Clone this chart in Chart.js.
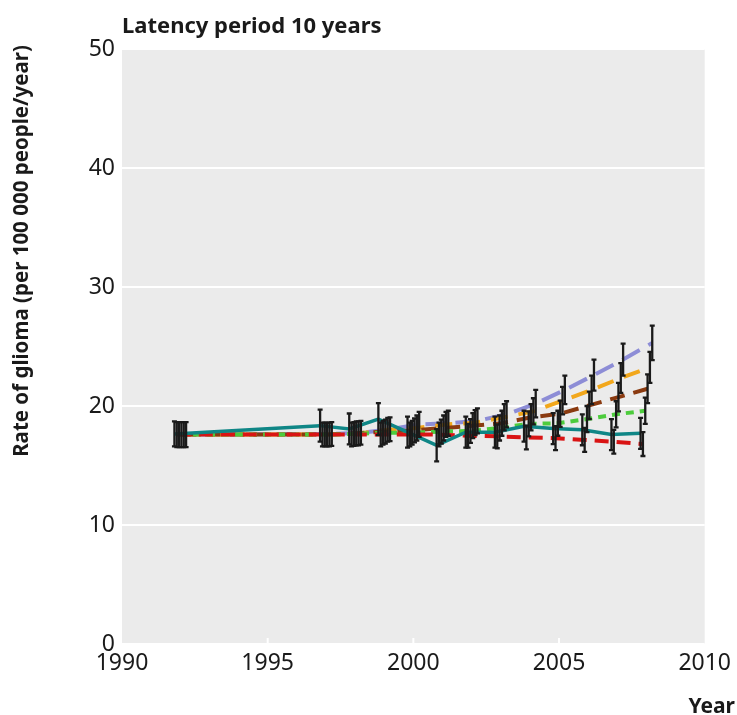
<!DOCTYPE html>
<html>
<head>
<meta charset="utf-8">
<title>Latency period 10 years</title>
<script src="https://cdn.jsdelivr.net/npm/chart.js@4.4.1/dist/chart.umd.min.js"></script>
<style>
  html, body { margin: 0; padding: 0; background: #fff; }
</style>
</head>
<body>
<canvas id="gliomaChart" width="737" height="715"></canvas>
<script>
// data (rate per 100 000 people/year)
const years = [1992, 1997, 1998, 1999, 2000, 2001, 2002, 2003, 2004, 2005, 2006, 2007, 2008];

const observed = [17.65, 18.35, 18.07, 18.9, 17.8, 16.7, 17.8, 17.8, 18.3, 18.1, 18.0, 17.6, 17.7];
const projRed = [17.6, 17.6, 17.6, 17.6, 17.6, 17.6, 17.5, 17.45, 17.35, 17.3, 17.15, 17.0, 16.8];
const projGreen = [17.6, 17.6, 17.65, 17.75, 17.75, 17.85, 17.9, 18.15, 18.5, 18.55, 18.9, 19.3, 19.6];
const projBrown = [17.6, 17.6, 17.7, 17.85, 17.95, 18.15, 18.35, 18.55, 19.05, 19.35, 20.05, 20.75, 21.45];
const projOrange = [17.6, 17.6, 17.7, 18.0, 18.15, 18.45, 18.6, 19.05, 19.55, 20.45, 21.35, 22.35, 23.25];
const projPurple = [17.6, 17.65, 17.75, 18.05, 18.45, 18.55, 18.75, 19.3, 20.2, 21.35, 22.6, 23.9, 25.3];

// half widths of the confidence intervals
const errObserved = [1.05, 1.35, 1.3, 1.35, 1.3, 1.35, 1.3, 1.3, 1.3, 1.3, 1.3, 1.3, 1.3];
const errRed = [1.05, 1.0, 1.0, 1.0, 1.0, 1.0, 1.0, 1.0, 1.0, 1.0, 1.0, 1.0, 1.0];
const errGreen = [1.05, 1.0, 1.0, 1.0, 1.0, 1.0, 1.0, 1.05, 1.05, 1.05, 1.1, 1.1, 1.1];
const errBrown = [1.05, 1.0, 1.0, 1.0, 1.0, 1.05, 1.05, 1.05, 1.1, 1.1, 1.15, 1.2, 1.2];
const errOrange = [1.05, 1.0, 1.0, 1.0, 1.05, 1.05, 1.05, 1.1, 1.1, 1.15, 1.2, 1.25, 1.3];
const errPurple = [1.05, 1.0, 1.0, 1.0, 1.05, 1.05, 1.05, 1.1, 1.15, 1.2, 1.3, 1.35, 1.45];

const xTicks = [1990, 1995, 2000, 2005, 2010];
const yTicks = [0, 10, 20, 30, 40, 50];

const titleText = 'Latency period 10 years';
const yTitle = 'Rate of glioma (per 100 000 people/year)';
const xTitle = 'Year';

// each series is nudged sideways a little so the bars don't sit on top of each other
function series(values, errs, dodge, color, dash, width) {
  return {
    data: years.map((yr, i) => ({ x: yr + dodge, y: values[i], err: errs[i] })),
    borderColor: color,
    borderWidth: width,
    borderDash: dash,
    borderCapStyle: 'butt',
    pointRadius: 0,
    tension: 0,
    fill: false
  };
}

const bgPlugin = {
  id: 'plotBackground',
  beforeDraw(chart) {
    const { ctx, chartArea: a } = chart;
    ctx.save();
    ctx.fillStyle = '#ebebeb';
    ctx.fillRect(a.left, a.top, a.right - a.left, a.bottom - a.top);
    ctx.restore();
  },
  beforeDatasetsDraw(chart) {
    // little white tick marks along the bottom edge
    const { ctx, chartArea: a, scales } = chart;
    ctx.save();
    ctx.strokeStyle = '#ffffff';
    ctx.lineWidth = 2;
    xTicks.slice(1, -1).forEach(v => {
      const px = scales.x.getPixelForValue(v);
      ctx.beginPath();
      ctx.moveTo(px, a.bottom);
      ctx.lineTo(px, a.bottom - 6);
      ctx.stroke();
    });
    ctx.restore();
  }
};

const errorBarPlugin = {
  id: 'errorBars',
  afterDatasetsDraw(chart) {
    const { ctx, scales } = chart;
    ctx.save();
    ctx.strokeStyle = '#1a1a1a';
    ctx.lineWidth = 2.3;
    chart.data.datasets.forEach(ds => {
      ds.data.forEach(p => {
        const px = scales.x.getPixelForValue(p.x);
        const top = scales.y.getPixelForValue(p.y + p.err);
        const bottom = scales.y.getPixelForValue(p.y - p.err);
        ctx.beginPath();
        ctx.moveTo(px, top);
        ctx.lineTo(px, bottom);
        ctx.moveTo(px - 2.5, top);
        ctx.lineTo(px + 2.5, top);
        ctx.moveTo(px - 2.5, bottom);
        ctx.lineTo(px + 2.5, bottom);
        ctx.stroke();
      });
    });
    ctx.restore();
  }
};

const labelPlugin = {
  id: 'labels',
  afterDraw(chart) {
    const { ctx } = chart;
    ctx.save();
    ctx.fillStyle = '#1a1a1a';
    ctx.font = 'bold 22px "Noto Sans"';
    ctx.textAlign = 'left';
    ctx.textBaseline = 'alphabetic';
    ctx.fillText(titleText, 122, 33);

    ctx.font = 'bold 21px "Noto Sans"';
    ctx.textAlign = 'right';
    ctx.fillText(xTitle, 735, 713);

    ctx.translate(28, 251);
    ctx.rotate(-Math.PI / 2);
    ctx.font = 'bold 20.5px "Noto Sans"';
    ctx.textAlign = 'center';
    ctx.fillText(yTitle, 0, 0);
    ctx.restore();
  }
};

const tickFont = { family: 'Noto Sans', size: 23 };

new Chart(document.getElementById('gliomaChart'), {
  type: 'line',
  data: {
    datasets: [
      series(observed, errObserved, -0.2, '#0f8686', [], 3.5),
      series(projRed, errRed, -0.12, '#d91414', [14, 8], 4),
      series(projGreen, errGreen, -0.04, '#4dcc3d', [8, 6], 4),
      series(projBrown, errBrown, 0.04, '#8a3a10', [15, 9], 4),
      series(projOrange, errOrange, 0.12, '#f2a71b', [17, 11], 4),
      series(projPurple, errPurple, 0.2, '#8d8dd6', [20, 10], 4)
    ]
  },
  options: {
    responsive: false,
    animation: false,
    layout: { padding: { top: 49, right: 30, left: 0, bottom: 0 } },
    plugins: {
      legend: { display: false },
      tooltip: { enabled: false }
    },
    scales: {
      x: {
        type: 'linear',
        min: xTicks[0],
        max: xTicks[xTicks.length - 1],
        afterBuildTicks: scale => { scale.ticks = xTicks.map(v => ({ value: v })); },
        afterFit: scale => { scale.height = 71; },
        ticks: {
          callback: v => String(v),
          font: tickFont,
          color: '#1a1a1a',
          padding: 6,
          maxRotation: 0,
          autoSkip: false
        },
        grid: { display: false, drawTicks: false },
        border: { display: false }
      },
      y: {
        min: yTicks[0],
        max: yTicks[yTicks.length - 1],
        afterBuildTicks: scale => { scale.ticks = yTicks.map(v => ({ value: v })); },
        afterFit: scale => { scale.width = 122; },
        ticks: {
          font: tickFont,
          color: '#1a1a1a',
          padding: 7
        },
        grid: { color: '#ffffff', lineWidth: 2, drawTicks: false },
        border: { display: false }
      }
    }
  },
  plugins: [bgPlugin, errorBarPlugin, labelPlugin]
});
</script>
</body>
</html>
